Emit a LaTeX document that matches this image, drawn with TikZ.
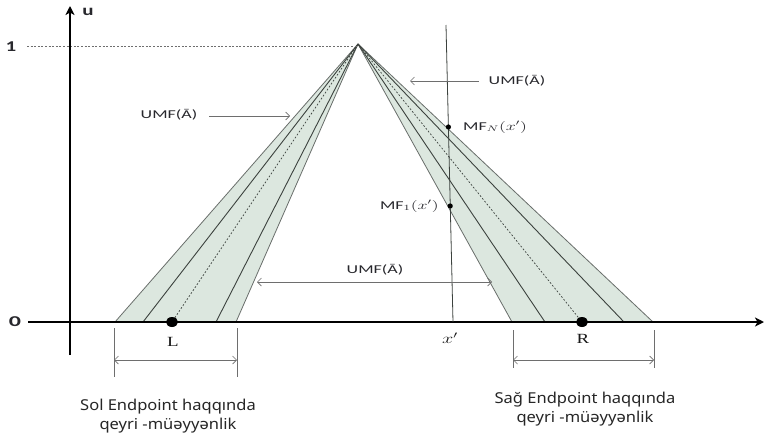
\documentclass[tikz,border=0pt]{standalone}
\usepackage{fontspec}
\usepackage{graphicx}
\usetikzlibrary{arrows.meta}
\setmainfont{Liberation Serif}
\newfontfamily\lblfont{Carlito}
\newfontfamily\botfont{Noto Sans}
\definecolor{bandfill}{RGB}{220,231,223}
\definecolor{bandline}{RGB}{60,66,62}
\definecolor{edgeline}{RGB}{105,110,107}
\definecolor{txt}{RGB}{40,40,45}
\definecolor{dimline}{RGB}{110,110,110}
\newcommand\umftext{\scalebox{1.5}[1]{UMF(Ā)}}
\begin{document}
\begin{tikzpicture}[x=1pt,y=-1pt,
  lbl/.style={font=\lblfont\fontsize{12}{12}\selectfont, text=txt, inner sep=1pt},
  axlbl/.style={font=\lblfont\bfseries\fontsize{15}{15}\selectfont, text=txt, inner sep=1pt},
  serlbl/.style={font=\fontsize{14}{14}\selectfont, text=black!90, inner sep=1pt},
  bottxt/.style={font=\botfont\fontsize{15}{19}\selectfont, text=black!85, inner sep=0pt},
  axisline/.style={line width=2.3pt, black, -{Stealth[length=9pt,width=9pt,inset=2.5pt]}},
  bandedge/.style={edgeline, line width=0.8pt},
  bandinner/.style={bandline, line width=0.9pt},
  banddot/.style={bandline, line width=0.7pt, dash pattern=on 1.8pt off 1.8pt},
  arr/.style={dimline, line width=0.7pt, -{Straight Barb[length=4pt,width=8pt]}},
  arrtwo/.style={dimline, line width=0.7pt, {Straight Barb[length=4pt,width=8pt]}-{Straight Barb[length=4pt,width=8pt]}},
  tick/.style={dimline, line width=0.8pt}
]
\useasboundingbox (0,0) rectangle (764,434);
\fill[white] (0,0) rectangle (764,434);

% key points
\coordinate (apex) at (358,44);
\coordinate (lA) at (115,322);
\coordinate (lB) at (143,322);
\coordinate (lL) at (172,322);
\coordinate (lC) at (216,322);
\coordinate (lD) at (236,322);
\coordinate (rA) at (512,322);
\coordinate (rB) at (545,322);
\coordinate (rR) at (582,322);
\coordinate (rC) at (624,322);
\coordinate (rD) at (653,322);

% bands
\fill[bandfill] (apex) -- (lA) -- (lD) -- cycle;
\fill[bandfill] (apex) -- (rA) -- (rD) -- cycle;
\draw[bandedge] (apex) -- (lA);
\draw[bandedge] (apex) -- (lD);
\draw[bandedge] (apex) -- (rA);
\draw[bandedge] (apex) -- (rD);
\draw[bandinner] (apex) -- (lB);
\draw[bandinner] (apex) -- (lC);
\draw[bandinner] (apex) -- (rB);
\draw[bandinner] (apex) -- (rC);
\draw[banddot] (apex) -- (lL);
\draw[banddot] (apex) -- (rR);

% level-1 dashed line
\coordinate (d1) at (27,46);
\draw[dimline, line width=0.6pt, dash pattern=on 2pt off 1.6pt] (d1) -- (d1 -| apex);

% axes
\coordinate (yb) at (70,355);
\coordinate (yt) at (70,6);
\coordinate (xl) at (28,322);
\coordinate (xr) at (764,322);
\draw[axisline] (yb) -- (yt);
\draw[axisline] (xl) -- (xr);
\node[axlbl] (ulab) at (88,12) {\scalebox{1.4}[1]{u}};
\node[axlbl] (one) at (11,47) {\scalebox{1.4}[1]{1}};
\node[axlbl] (zero) at (15,322) {\scalebox{1.6}[1]{0}};

% x' line
\coordinate (xt) at (446,25);
\coordinate (xb) at (453,322);
\draw[bandinner, line width=0.8pt] (xt) -- (xb);
\coordinate (mfN) at (448.4,127);
\coordinate (mfA) at (450.2,206);
\fill[black] (mfN) circle (2.6);
\fill[black] (mfA) circle (2.6);
\node[lbl, anchor=west] (mfNlab) at (462,127) {\scalebox{1.5}[1]{MF$_{N}(x')$}};
\node[lbl, anchor=east] (mfAlab) at (440,206) {\scalebox{1.5}[1]{MF$_{1}(x')$}};
\node[serlbl] (xlab) at (450,338) {\scalebox{1.4}[1]{$x'$}};

% endpoints
\fill[black] (lL) ellipse (6 and 5);
\fill[black] (rR) ellipse (6 and 5);
\node[serlbl] (Llab) at (173,342) {\scalebox{1.35}[1]{L}};
\node[serlbl] (Rlab) at (583,339) {\scalebox{1.35}[1]{R}};

% UMF labels and arrows
\node[lbl] (u1) at (169,115) {\umftext};
\coordinate (u1e) at (290,116);
\draw[arr, shorten <=11pt] (u1.east |- u1e) -- (u1e);
\node[lbl] (u2) at (517,81) {\umftext};
\coordinate (u2e) at (410,81);
\draw[arr, shorten <=9pt] (u2.west) -- (u2e);
\node[lbl] (u3) at (375,270) {\umftext};
\coordinate (u3l) at (257,282);
\coordinate (u3r) at (492,282);
\draw[arrtwo] (u3l) -- (u3r);

% dimension marks
\coordinate (dl1t) at (114,328); \coordinate (dl1b) at (114,377);
\coordinate (dl2t) at (237,328); \coordinate (dl2b) at (237,377);
\draw[tick] (dl1t) -- (dl1b);
\draw[tick] (dl2t) -- (dl2b);
\draw[arrtwo] (dl1t |- 0,360) -- (dl2t |- 0,360);
\coordinate (dr1t) at (513,330); \coordinate (dr1b) at (513,368);
\coordinate (dr2t) at (654,330); \coordinate (dr2b) at (654,368);
\draw[tick] (dr1t) -- (dr1b);
\draw[tick] (dr2t) -- (dr2b);
\draw[arrtwo] (dr1t |- 0,360) -- (dr2t |- 0,360);

% bottom captions
\node[bottxt] (solcap) at (168,416.5) {\scalebox{1.1}[1]{\begin{tabular}{@{}c@{}}Sol Endpoint haqqında\\qeyri -müəyyənlik\end{tabular}}};
\node[bottxt] (sagcap) at (585,409) {\scalebox{1.1}[1]{\begin{tabular}{@{}c@{}}Sağ Endpoint haqqında\\qeyri -müəyyənlik\end{tabular}}};
\end{tikzpicture}
\end{document}
